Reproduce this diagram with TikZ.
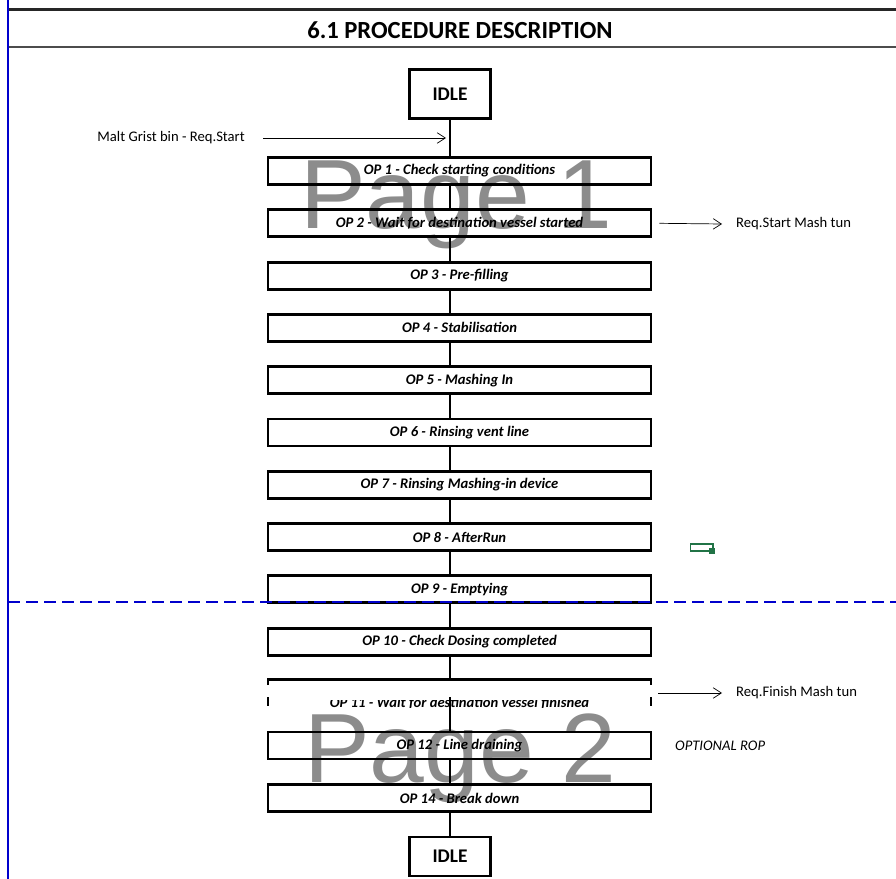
\documentclass[tikz,border=0pt]{standalone}
\usepackage{fontspec}
\setmainfont{Carlito}
\newfontfamily\wmfont{Liberation Sans}
\usetikzlibrary{arrows.meta, positioning}
\definecolor{pgBlue}{HTML}{0000CC}
\definecolor{wmGray}{HTML}{8C8C8C}
\definecolor{xlGreen}{HTML}{217346}

\begin{document}
\begin{tikzpicture}[x=0.03cm, y=-0.03cm,
    opbox/.style={draw, line width=2.4pt, minimum width=383*0.03cm, minimum height=27*0.03cm,
      inner sep=0pt, font=\fontsize{12.5}{14}\selectfont\bfseries\itshape},
    idlebox/.style={draw, line width=2.4pt, minimum width=81*0.03cm, inner sep=0pt,
      font=\fontsize{16.5}{18}\selectfont\bfseries},
    link/.style={line width=1.6pt},
    sig/.style={-{Straight Barb[length=7pt, width=9pt]}, line width=0.6pt},
    sigtext/.style={font=\fontsize{12.5}{14}\selectfont, anchor=west, inner sep=0pt},
    wmark/.style={wmGray, font=\wmfont\fontsize{84}{84}\selectfont, anchor=base, inner sep=0pt}]
  \useasboundingbox (0,0) rectangle (896,879);

  % page watermarks
  \node[wmark] (pg1) at (456,229) {Page 1};
  \node[wmark] (pg2) at (460,782) {Page 2};

  % title band
  \draw[line width=2.4pt, black!85] (8,9.5) -- (896,9.5);
  \draw[line width=1.6pt, black!70] (8,47) -- (896,47);
  \node[font=\fontsize{21}{24}\selectfont\bfseries] (title) at (460,30) {6.1 PROCEDURE DESCRIPTION};

  % start / end states
  \node[idlebox, minimum height=49*0.03cm] (idle1) at (450,94) {IDLE};
  \node[idlebox, minimum height=39*0.03cm] (idle2) at (450,856.5) {IDLE};

  % operations
  \foreach \nm/\txt [count=\n] in {op1/{OP 1 - Check starting conditions},
      op2/{OP 2 - Wait for destination vessel started}, op3/{OP 3 - Pre-filling},
      op4/{OP 4 - Stabilisation}, op5/{OP 5 - Mashing In}, op6/{OP 6 - Rinsing vent line},
      op7/{OP 7 - Rinsing Mashing-in device}, op8/{OP 8 - AfterRun}, op9/{OP 9 - Emptying},
      op10/{OP 10 - Check Dosing completed}}
    \node[opbox] (\nm) at (459.5,{171+52.3*(\n-1)}) {\txt};
  \node[opbox] (op12) at (459.5,745.5) {OP 12 - Line draining};
  \node[opbox] (op14) at (459.5,798) {OP 14 - Break down};

  % OP 11, cut by the page break
  \coordinate (op11) at (459.5,693);
  \draw[line width=2.4pt] (268,685) -- (268,679.5) -- (651,679.5) -- (651,685);
  \draw[line width=2.4pt] (268,697) -- (268,706);
  \draw[line width=2.4pt] (651,697) -- (651,706);
  \begin{scope}
    \clip (270,700) rectangle (649,707);
    \node[font=\fontsize{12.5}{14}\selectfont\bfseries\itshape, anchor=base, inner sep=0pt] (op11txt)
      at (459.5,707) {OP 11 - Wait for destination vessel finished};
  \end{scope}

  % connectors
  \draw[link] (idle1.south) -- (idle1.south |- op1.north);
  \foreach \a/\b in {op1/op2, op2/op3, op3/op4, op4/op5, op5/op6, op6/op7, op7/op8,
      op8/op9, op9/op10}
    \draw[link] (idle1.south |- \a.south) -- (idle1.south |- \b.north);
  \draw[link] (idle1.south |- op10.south) -- (idle1.south |- 0,679);
  \draw[link] (idle1.south |- 0,697) -- (idle1.south |- op12.north);
  \draw[link] (idle1.south |- op12.south) -- (idle1.south |- op14.north);
  \draw[link] (idle1.south |- op14.south) -- (idle2.north);

  % signals
  \node[sigtext, anchor=east] (reqin) at (245,138) {Malt Grist bin - Req.Start};
  \coordinate (reqinend) at (446,138);
  \draw[sig] (263,138) -- (reqinend);
  \node[sigtext] (reqstart) at (736,224) {Req.Start Mash tun};
  \draw[sig] ([xshift=7*0.03cm]op2.east) -- ([xshift=-14*0.03cm]reqstart.west);
  \node[sigtext] (reqfin) at (736,693) {Req.Finish Mash tun};
  \draw[sig] (658,693) -- ([xshift=-14*0.03cm]reqfin.west);
  \node[sigtext, font=\fontsize{12.5}{14}\selectfont\itshape] (optrop) at (675,746) {OPTIONAL ROP};

  % page break preview lines
  \draw[pgBlue, line width=1.2pt] (8,0) -- (8,879);
  \draw[pgBlue, line width=1.6pt, dash pattern=on 12*0.03cm off 6*0.03cm] (8,602) -- (896,602);

  % small cell marker
  \draw[xlGreen, line width=1.5pt] (690.5,544) rectangle (713,551);
  \fill[xlGreen] (709,548) rectangle (715,554);
\end{tikzpicture}
\end{document}
